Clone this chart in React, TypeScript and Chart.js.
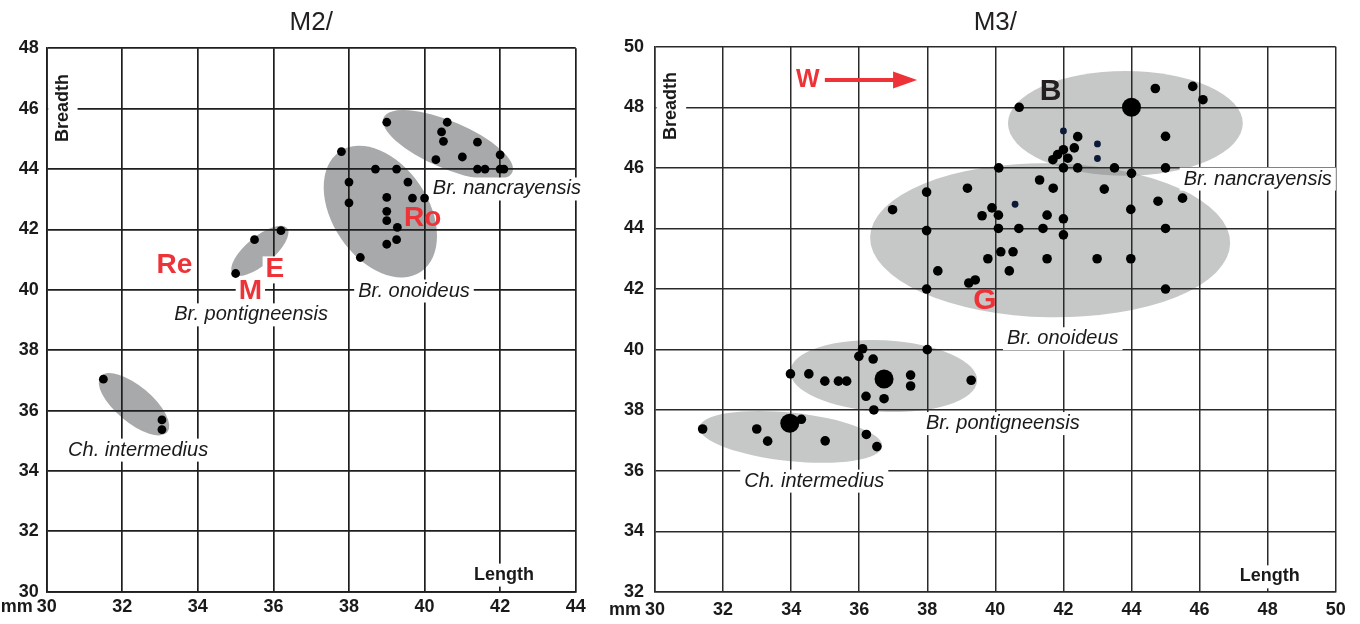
import React, { useEffect, useRef } from "react";
import { Chart, registerables } from "chart.js";

Chart.register(...registerables);

const FONT = '"Liberation Sans", Arial, Helvetica, sans-serif';

// ================= M2/ data =================
const m2XTicks = [30, 32, 34, 36, 38, 40, 42, 44];
const m2YTicks = [30, 32, 34, 36, 38, 40, 42, 44, 46, 48];

const m2NancX = [39.0, 40.6, 40.45, 40.5, 41.4, 40.3, 41.0, 42.0, 41.4, 41.6, 42.0, 42.1];
const m2NancY = [45.55, 45.55, 45.23, 44.92, 44.89, 44.31, 44.4, 44.47, 44.0, 44.0, 44.0, 44.0];

const m2OnoX = [37.8, 38.0, 38.0, 38.7, 39.26, 39.56, 39.0, 39.68, 40.0, 39.0, 39.0, 39.28, 39.0, 39.26, 38.3];
const m2OnoY = [44.58, 43.57, 42.88, 44.0, 44.0, 43.57, 43.06, 43.04, 43.04, 42.6, 42.29, 42.07, 41.51, 41.66, 41.07];

const m2PontX = [35.0, 35.5, 36.2];
const m2PontY = [40.54, 41.66, 41.96];

const m2InterX = [31.5, 33.05, 33.05];
const m2InterY = [37.04, 35.69, 35.37];

// group ellipses (data units): centre, semi-axes, tilt
const m2EllCx = [40.62, 38.83, 35.64, 32.31];
const m2EllCy = [44.8, 42.59, 41.29, 36.21];
const m2EllRx = [1.85, 1.92, 0.94, 1.15];
const m2EllRy = [0.78, 1.58, 0.46, 0.6];
const m2EllAngle = [23, 56, -40, 40];

const m2NoteText = ["Br. nancrayensis", "Br. onoideus", "Br. pontigneensis", "Ch. intermedius", "Re", "E", "M", "Ro", "Breadth", "Length"];
const m2NoteX = [42.18, 39.72, 35.41, 32.42, 33.38, 36.04, 35.39, 39.95, 30.38, 42.1];
const m2NoteY = [43.34, 39.96, 39.17, 34.69, 40.79, 40.66, 39.93, 42.37, 46.02, 30.55];
const m2NoteKind = ["species", "species", "species", "species", "red", "redBg", "redBg", "red", "axisV", "axis"];

// ================= M3/ data =================
const m3XTicks = [30, 32, 34, 36, 38, 40, 42, 44, 46, 48, 50];
const m3YTicks = [32, 34, 36, 38, 40, 42, 44, 46, 48, 50];

const m3NancX = [40.7, 44.7, 45.8, 46.1, 42.42, 42.32, 42.0, 41.83, 41.69, 42.13, 45.0, 42.0, 42.42, 43.5, 45.0, 44.0];
const m3NancY = [48.0, 48.62, 48.69, 48.25, 47.03, 46.66, 46.6, 46.44, 46.27, 46.32, 47.04, 46.0, 46.0, 46.0, 46.0, 45.82];

const m3SmallX = [42.0, 43.0, 43.0, 40.58];
const m3SmallY = [47.22, 46.79, 46.31, 44.8];

const m3BigX = [44.0, 36.73, 33.96];
const m3BigY = [48.0, 39.03, 37.57];

const m3OnoX = [40.1, 41.3, 41.7, 43.2, 39.18, 37.98, 36.98, 39.9, 39.61, 40.09, 41.52, 42.0, 37.98, 40.09, 40.69, 41.4, 42.0, 43.98, 44.78, 45.5, 45.0, 40.16, 40.52, 39.78, 41.52, 42.99, 43.98, 38.31, 40.41, 39.41, 39.22, 37.98, 45.0];
const m3OnoY = [46.0, 45.6, 45.33, 45.3, 45.33, 45.2, 44.62, 44.68, 44.42, 44.44, 44.44, 44.32, 43.93, 44.0, 44.0, 44.0, 43.79, 44.63, 44.9, 45.0, 44.0, 43.23, 43.23, 43.0, 43.0, 43.0, 43.0, 42.6, 42.6, 42.3, 42.2, 42.0, 42.0];

const m3PontX = [36.1, 35.99, 36.41, 38.0, 33.98, 34.52, 34.99, 35.39, 35.63, 37.51, 37.51, 39.29, 36.2, 36.73, 36.43];
const m3PontY = [40.03, 39.78, 39.69, 40.0, 39.2, 39.2, 38.96, 38.96, 38.96, 39.16, 38.8, 38.99, 38.46, 38.38, 38.01];

const m3InterX = [31.4, 34.3, 32.99, 33.31, 35.0, 36.21, 36.52];
const m3InterY = [37.38, 37.7, 37.38, 36.98, 36.99, 37.2, 36.8];

const m3EllCx = [43.82, 41.61, 36.72, 33.99];
const m3EllCy = [47.47, 43.61, 39.13, 37.12];
const m3EllRx = [3.45, 5.29, 2.75, 2.7];
const m3EllRy = [1.73, 2.54, 1.18, 0.8];
const m3EllAngle = [0, 1, 3, 6];

const m3ArrowX = [34.99, 37.7];
const m3ArrowY = [48.9, 48.9];

const m3NoteText = ["Br. nancrayensis", "Br. onoideus", "Br. pontigneensis", "Ch. intermedius", "B", "W", "G", "Breadth", "Length"];
const m3NoteX = [47.71, 41.98, 40.22, 34.68, 41.62, 34.49, 39.69, 30.43, 48.06];
const m3NoteY = [45.63, 40.36, 37.56, 35.66, 48.5, 48.9, 41.6, 48.04, 32.5];
const m3NoteKind = ["species", "species", "species", "species", "dark", "redSmall", "redBig", "axisV", "axis"];

// ================= drawing helpers =================
const RED = "#ee3338";
const INK = "#1a1a1a";

const KIND: Record<string, { font: string; color: string; bg: boolean; padX: number; padY: number; rot?: boolean }> = {
  species: { font: `italic 20px ${FONT}`, color: INK, bg: true, padX: 4, padY: 2 },
  red: { font: `bold 28px ${FONT}`, color: RED, bg: false, padX: 0, padY: 0 },
  redBg: { font: `bold 28px ${FONT}`, color: RED, bg: true, padX: 3, padY: 2 },
  redBig: { font: `bold 30px ${FONT}`, color: RED, bg: false, padX: 0, padY: 0 },
  redSmall: { font: `bold 25px ${FONT}`, color: RED, bg: false, padX: 0, padY: 0 },
  dark: { font: `bold 30px ${FONT}`, color: "#231f20", bg: false, padX: 0, padY: 0 },
  axis: { font: `bold 18px ${FONT}`, color: INK, bg: true, padX: 6, padY: 3 },
  axisV: { font: `bold 18px ${FONT}`, color: INK, bg: true, padX: 10, padY: 6, rot: true },
};

const pts = (xs: number[], ys: number[]) => xs.map((x, i) => ({ x, y: ys[i] }));

function decorPlugin(p: {
  ell: { cx: number[]; cy: number[]; rx: number[]; ry: number[]; ang: number[]; fill: string };
  notes: { text: string[]; x: number[]; y: number[]; kind: string[] };
  arrow?: { x: number[]; y: number[] };
}) {
  const boxes = (chart: any) => {
    const ctx = chart.ctx;
    const xs = chart.scales.x, ys = chart.scales.y;
    return p.notes.text.map((t, i) => {
      const k = KIND[p.notes.kind[i]];
      ctx.save();
      ctx.font = k.font;
      const m = ctx.measureText(t);
      ctx.restore();
      const w = m.width;
      const asc = m.actualBoundingBoxAscent || 14;
      const desc = m.actualBoundingBoxDescent || 4;
      return { t, k, cx: xs.getPixelForValue(p.notes.x[i]), cy: ys.getPixelForValue(p.notes.y[i]), w, asc, desc };
    });
  };
  return {
    id: "decor",
    beforeDraw(chart: any) {
      const ctx = chart.ctx;
      const xs = chart.scales.x, ys = chart.scales.y;
      ctx.save();
      ctx.fillStyle = p.ell.fill;
      p.ell.cx.forEach((cx, i) => {
        const px = xs.getPixelForValue(cx);
        const py = ys.getPixelForValue(p.ell.cy[i]);
        const rx = Math.abs(xs.getPixelForValue(cx + p.ell.rx[i]) - px);
        const ry = Math.abs(ys.getPixelForValue(p.ell.cy[i] + p.ell.ry[i]) - py);
        ctx.beginPath();
        ctx.ellipse(px, py, rx, ry, (p.ell.ang[i] * Math.PI) / 180, 0, Math.PI * 2);
        ctx.fill();
      });
      ctx.restore();
    },
    beforeDatasetsDraw(chart: any) {
      const ctx = chart.ctx;
      const area = chart.chartArea;
      ctx.save();
      ctx.fillStyle = "#ffffff";
      boxes(chart).forEach((b: any) => {
        if (!b.k.bg) return;
        if (b.k.rot) {
          const h = b.asc;
          let left = b.cx - h / 2 - b.k.padX;
          const right = b.cx + h / 2 + b.k.padX;
          left = Math.max(left, area.left + 1.5);
          ctx.fillRect(left, b.cy - b.w / 2 - b.k.padY, right - left, b.w + 2 * b.k.padY);
        } else {
          const top = b.cy - (b.asc + b.desc) / 2 - b.k.padY;
          ctx.fillRect(b.cx - b.w / 2 - b.k.padX, top, b.w + 2 * b.k.padX, b.asc + b.desc + 2 * b.k.padY);
        }
      });
      ctx.restore();
    },
    afterDatasetsDraw(chart: any) {
      const ctx = chart.ctx;
      const xs = chart.scales.x, ys = chart.scales.y;
      ctx.save();
      boxes(chart).forEach((b: any) => {
        ctx.font = b.k.font;
        ctx.fillStyle = b.k.color;
        ctx.textAlign = "center";
        ctx.textBaseline = "alphabetic";
        const off = (b.asc - b.desc) / 2;
        if (b.k.rot) {
          ctx.save();
          ctx.translate(b.cx, b.cy);
          ctx.rotate(-Math.PI / 2);
          ctx.fillText(b.t, 0, b.asc / 2);
          ctx.restore();
        } else {
          ctx.fillText(b.t, b.cx, b.cy + off);
        }
      });
      if (p.arrow) {
        const x0 = xs.getPixelForValue(p.arrow.x[0]);
        const x1 = xs.getPixelForValue(p.arrow.x[1]);
        const y0 = ys.getPixelForValue(p.arrow.y[0]);
        const head = 24;
        ctx.strokeStyle = RED;
        ctx.fillStyle = RED;
        ctx.lineWidth = 4;
        ctx.beginPath();
        ctx.moveTo(x0, y0);
        ctx.lineTo(x1 - head + 2, y0);
        ctx.stroke();
        ctx.beginPath();
        ctx.moveTo(x1, y0);
        ctx.lineTo(x1 - head, y0 - 8.5);
        ctx.lineTo(x1 - head, y0 + 8.5);
        ctx.closePath();
        ctx.fill();
      }
      // "mm" unit in front of the first x tick label
      const items = xs.getLabelItems ? xs.getLabelItems() : [];
      if (items.length) {
        const it = items[0];
        ctx.font = `bold 18px ${FONT}`;
        const lw = ctx.measureText(String(it.label)).width;
        const [tx, ty] = it.options.translation;
        ctx.fillStyle = INK;
        ctx.textAlign = "right";
        ctx.textBaseline = it.options.textBaseline || "middle";
        ctx.fillText("mm", tx - lw / 2 - 4, ty + (it.textOffset || 0));
      }
      ctx.restore();
    },
  };
}

function scaleOpts(ticks: number[], fitSize: number, horizontal: boolean, gridColor: string, lw: number, pad: number) {
  return {
    type: "linear",
    min: ticks[0],
    max: ticks[ticks.length - 1],
    afterBuildTicks: (s: any) => {
      s.ticks = ticks.map((v) => ({ value: v }));
    },
    afterFit: (s: any) => {
      if (horizontal) {
        s.height = fitSize;
        s.paddingLeft = 0;
        s.paddingRight = 0;
      } else {
        s.width = fitSize;
        s.paddingTop = 0;
        s.paddingBottom = 0;
      }
    },
    ticks: {
      color: INK,
      padding: pad,
      maxRotation: 0,
      autoSkip: false,
      font: { family: FONT, size: 18, weight: "bold" },
      callback: (v: any) => String(v),
    },
    grid: { color: gridColor, lineWidth: lw, drawTicks: false },
    border: { display: true, color: gridColor, width: lw },
  };
}

function buildConfig(o: any) {
  return {
    type: "scatter",
    data: { datasets: o.datasets },
    options: {
      responsive: false,
      animation: false,
      events: [],
      devicePixelRatio: 1,
      layout: { padding: { left: 0, top: 0, right: o.padRight, bottom: 0 } },
      plugins: {
        legend: { display: false },
        tooltip: { enabled: false },
        title: {
          display: true,
          text: o.title,
          fullSize: false,
          color: "#231f20",
          font: { family: FONT, size: 26, weight: "normal", lineHeight: 1.2 },
          padding: { top: 7, bottom: o.titleBottom },
        },
      },
      scales: {
        x: scaleOpts(o.xTicks, o.xFit, true, o.gridColor, o.gridW, o.xPad),
        y: scaleOpts(o.yTicks, o.yFit, false, o.gridColor, o.gridW, o.yPad),
      },
    },
    plugins: [o.decor],
  };
}

function dotSet(xs: number[], ys: number[], r: number, color = "#000000") {
  return {
    data: pts(xs, ys),
    pointRadius: r,
    pointBackgroundColor: color,
    pointBorderWidth: 0,
    showLine: false,
  };
}

function ChartCanvas({ left, width, make }: { left: number; width: number; make: () => any }) {
  const ref = useRef<HTMLCanvasElement | null>(null);
  useEffect(() => {
    if (!ref.current) return;
    const chart = new Chart(ref.current, make());
    return () => chart.destroy();
  }, []);
  return (
    <div style={{ position: "absolute", left, top: 0, width, height: 624 }}>
      <canvas ref={ref} width={width} height={624} style={{ width, height: 624, display: "block" }} />
    </div>
  );
}

const makeM2 = () =>
  buildConfig({
    title: "M2/",
    titleBottom: 10.1,
    padRight: 24.3,
    xFit: 32.3,
    yFit: 46.7,
    xPad: 5,
    yPad: 8,
    xTicks: m2XTicks,
    yTicks: m2YTicks,
    gridColor: "#1e1e1e",
    gridW: 1.7,
    datasets: [
      dotSet(m2NancX, m2NancY, 4.4),
      dotSet(m2OnoX, m2OnoY, 4.4),
      dotSet(m2PontX, m2PontY, 4.4),
      dotSet(m2InterX, m2InterY, 4.4),
    ],
    decor: decorPlugin({
      ell: { cx: m2EllCx, cy: m2EllCy, rx: m2EllRx, ry: m2EllRy, ang: m2EllAngle, fill: "#a7a9aa" },
      notes: { text: m2NoteText, x: m2NoteX, y: m2NoteY, kind: m2NoteKind },
    }),
  });

const makeM3 = () =>
  buildConfig({
    title: "M3/",
    titleBottom: 8.5,
    padRight: 24.3,
    xFit: 32,
    yFit: 55,
    xPad: 7,
    yPad: 11,
    xTicks: m3XTicks,
    yTicks: m3YTicks,
    gridColor: "#2a2a2a",
    gridW: 1.5,
    datasets: [
      dotSet(m3NancX, m3NancY, 4.8),
      dotSet(m3OnoX, m3OnoY, 4.8),
      dotSet(m3PontX, m3PontY, 4.8),
      dotSet(m3InterX, m3InterY, 4.8),
      dotSet(m3SmallX, m3SmallY, 3.4, "#0b1a36"),
      dotSet(m3BigX, m3BigY, 9.5),
    ],
    decor: decorPlugin({
      ell: { cx: m3EllCx, cy: m3EllCy, rx: m3EllRx, ry: m3EllRy, ang: m3EllAngle, fill: "rgba(128,131,131,0.45)" },
      notes: { text: m3NoteText, x: m3NoteX, y: m3NoteY, kind: m3NoteKind },
      arrow: { x: m3ArrowX, y: m3ArrowY },
    }),
  });

export default function App() {
  return (
    <div style={{ position: "fixed", left: 0, top: 0, width: 1360, height: 624, background: "#ffffff", overflow: "hidden" }}>
      <ChartCanvas left={0} width={600} make={makeM2} />
      <ChartCanvas left={600} width={760} make={makeM3} />
    </div>
  );
}
